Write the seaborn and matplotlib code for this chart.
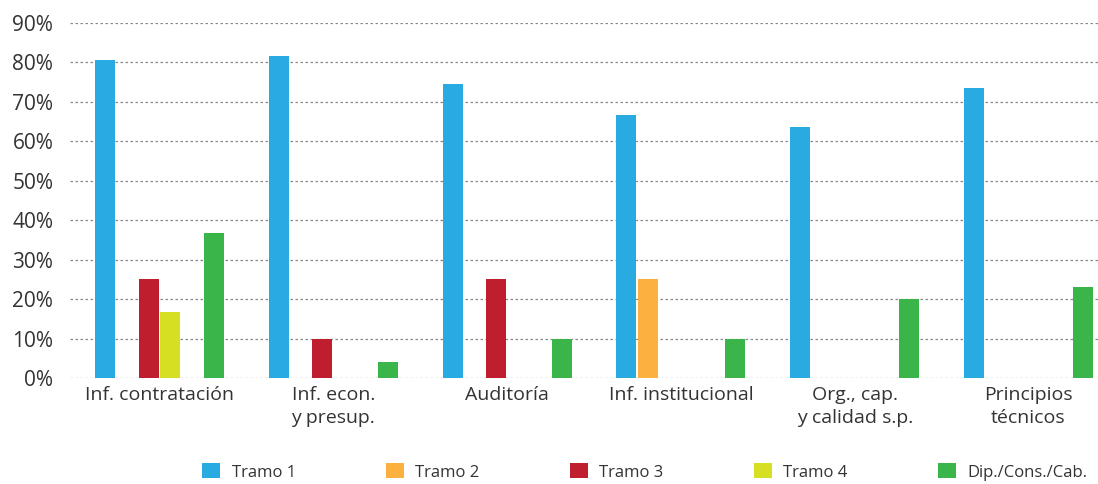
import numpy as np
import pandas as pd
import matplotlib
matplotlib.use("Agg")
import matplotlib.pyplot as plt
import seaborn as sns
from matplotlib.patches import Patch

categories = ["Inf. contratación", "Inf. econ.\ny presup.", "Auditoría",
              "Inf. institucional", "Org., cap.\ny calidad s.p.", "Principios\ntécnicos"]
series = ["Tramo 1", "Tramo 2", "Tramo 3", "Tramo 4", "Dip./Cons./Cab."]
tramo1 = [80.7, 81.7, 74.6, 66.7, 63.6, 73.6]
tramo2 = [0, 0, 0, 25, 0, 0]
tramo3 = [25, 10, 25, 0, 0, 0]
tramo4 = [16.8, 0, 0, 0, 0, 0]
dip = [36.8, 4, 10, 10, 20, 23]
colors = ["#29ABE2", "#FBB040", "#BE1E2D", "#D7DF23", "#39B54A"]

values = [tramo1, tramo2, tramo3, tramo4, dip]
df = pd.DataFrame({
    "Categoria": np.tile(categories, len(series)),
    "Serie": np.repeat(series, len(categories)),
    "Valor": np.concatenate(values),
})

# empty slot between Tramo 4 and Dip. in the original layout
hue_order = series[:4] + ["_hueco"] + series[4:]
palette = dict(zip(series, colors))
palette["_hueco"] = "white"

sns.set_style("white")
plt.rcParams["font.family"] = ["Open Sans", "DejaVu Sans"]

fig = plt.figure(figsize=(10.98, 4.84), dpi=100)
ax = fig.add_axes([70 / 1098, 1 - 378 / 484, 1028 / 1098, 355 / 484])

sns.barplot(data=df, x="Categoria", y="Valor", hue="Serie",
            order=categories, hue_order=hue_order, palette=palette,
            saturation=1, width=0.753, gap=0.083, linewidth=0,
            errorbar=None, legend=False, ax=ax)

ax.set_xlim(-0.515, 5.40)
ax.set_ylim(0, 90)
ax.set_yticks(range(0, 91, 10))
ax.set_yticklabels([f"{v}%" for v in range(0, 91, 10)], fontsize=15, color="#333333")
ax.set_xticks(range(len(categories)))
ax.set_xticklabels(categories, fontsize=14, color="#333333", linespacing=1.3)
ax.tick_params(axis="y", length=0, pad=12)
ax.tick_params(axis="x", length=0, pad=6)
ax.set_xlabel("")
ax.set_ylabel("")
for s in ax.spines.values():
    s.set_visible(False)
ax.yaxis.grid(True, linestyle=(0, (2, 2)), color="#888888", linewidth=0.9)
ax.set_axisbelow(True)

handles = [Patch(facecolor=c, edgecolor="none") for c in colors]
fig.legend(handles, series, loc="center left", bbox_to_anchor=(202 / 1098, 1 - 472 / 484),
           ncol=5, frameon=False, fontsize=12, handlelength=1.08, handleheight=1.0,
           columnspacing=5.4, handletextpad=0.7, borderpad=0, borderaxespad=0,
           labelcolor="#333333")

fig.savefig("out.png", dpi=100)
